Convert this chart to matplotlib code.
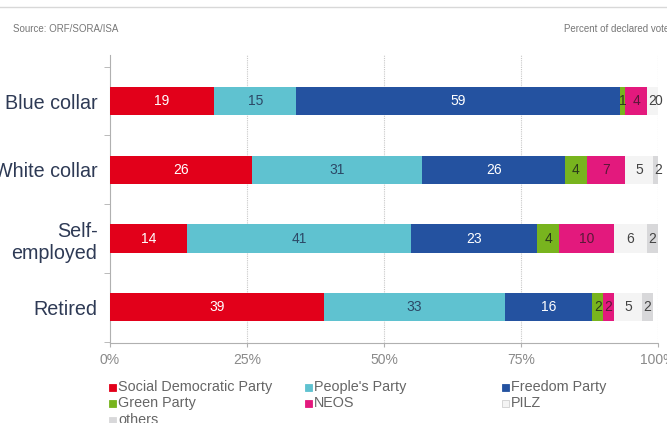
"""
Voto por grupo ocupacional (barras apiladas al 100%)
"""

import numpy as np
import matplotlib.pyplot as plt
from matplotlib.patches import Rectangle

plt.rcParams['font.family'] = ['Liberation Sans', 'DejaVu Sans']

# Datos
grupos = ['Blue collar', 'White collar', 'Self-\nemployed', 'Retired']
partidos = ['Social Democratic Party', "People's Party", 'Freedom Party',
            'Green Party', 'NEOS', 'PILZ', 'others']
spo = [19, 26, 14, 39]
ovp = [15, 31, 41, 33]
fpo = [59, 26, 23, 16]
gruene = [1, 4, 4, 2]
neos = [4, 7, 10, 2]
pilz = [2, 5, 6, 5]
otros = [0, 2, 2, 2]
valores = [spo, ovp, fpo, gruene, neos, pilz, otros]

colores = ['#e2001a', '#5fc2d0', '#2452a0', '#78b41e', '#e3197d', '#f4f4f4', '#d8d8da']
color_texto = ['white', '#2c4866', 'white', '#2b3b1a', '#5a1838', '#444444', '#444444']

fig = plt.figure(figsize=(6.67, 4.23), dpi=100)
ax = fig.add_axes([110 / 667, 1 - 343 / 423, 548 / 667, (343 - 55) / 423])

y = np.arange(len(grupos))
izq = np.zeros(len(grupos))
for vals, col, ctxt in zip(valores, colores, color_texto):
    vals = np.array(vals, dtype=float)
    ax.barh(y, vals, left=izq, height=0.41, color=col, zorder=3)
    for yi, v, l in zip(y, vals, izq):
        ax.text(l + v / 2, yi, f'{int(v)}', ha='center', va='center',
                fontsize=10, color=ctxt, zorder=4)
    izq += vals

ax.set_xlim(0, 100)
ax.set_ylim(3.52, -0.67)

# Ejes y rejilla
ax.set_xticks([0, 25, 50, 75, 100])
ax.set_xticklabels(['0%', '25%', '50%', '75%', '100%'], fontsize=10, color='#8a8a8a')
ax.set_yticks(y)
ax.set_yticklabels(grupos, fontsize=14.2, color='#2e3a55', linespacing=1.2)
ax.set_yticks([-0.5, 0.5, 1.5, 2.5, 3.5], minor=True)
ax.tick_params(axis='y', which='major', length=0, pad=9)
ax.tick_params(axis='y', which='minor', length=4, color='#b0b0b0')
ax.tick_params(axis='x', length=3, color='#b0b0b0', pad=4)
for x in [25, 50, 75, 100]:
    ax.axvline(x, color='#c8c8c8', linewidth=0.8, linestyle=(0, (1, 1)), zorder=1)
for lado in ['top', 'right']:
    ax.spines[lado].set_visible(False)
ax.spines['left'].set_color('#b0b0b0')
ax.spines['bottom'].set_color('#b0b0b0')
ax.spines['bottom'].set_linestyle((0, (1, 1)))

# Leyenda manual en tres columnas
col_x = [110, 306, 503]
fila_y = [387, 403, 420]
for i, (nombre, col) in enumerate(zip(partidos, colores)):
    cx = col_x[i % 3]
    cy = fila_y[i // 3]
    fig.patches.append(Rectangle(((cx - 1) / 667, 1 - (cy + 3.5) / 423), 7 / 667, 7 / 423,
                                 transform=fig.transFigure, facecolor=col,
                                 edgecolor='#d0d0d0' if col == '#f4f4f4' else col,
                                 linewidth=0.6))
    fig.text((cx + 8) / 667, 1 - cy / 423, nombre, fontsize=10.4, color='#666666',
             ha='left', va='center')

# Cabecera
fig.add_artist(plt.Line2D([0, 1], [1 - 7 / 423, 1 - 7 / 423], color='#d8d8d8', linewidth=1))
fig.text(13 / 667, 1 - 29 / 423, 'Source: ORF/SORA/ISA', fontsize=7, color='#777777',
         ha='left', va='center')
fig.text(564 / 667, 1 - 29 / 423, 'Percent of declared votes', fontsize=7,
         color='#777777', ha='left', va='center')

plt.savefig('out.png', dpi=100)
